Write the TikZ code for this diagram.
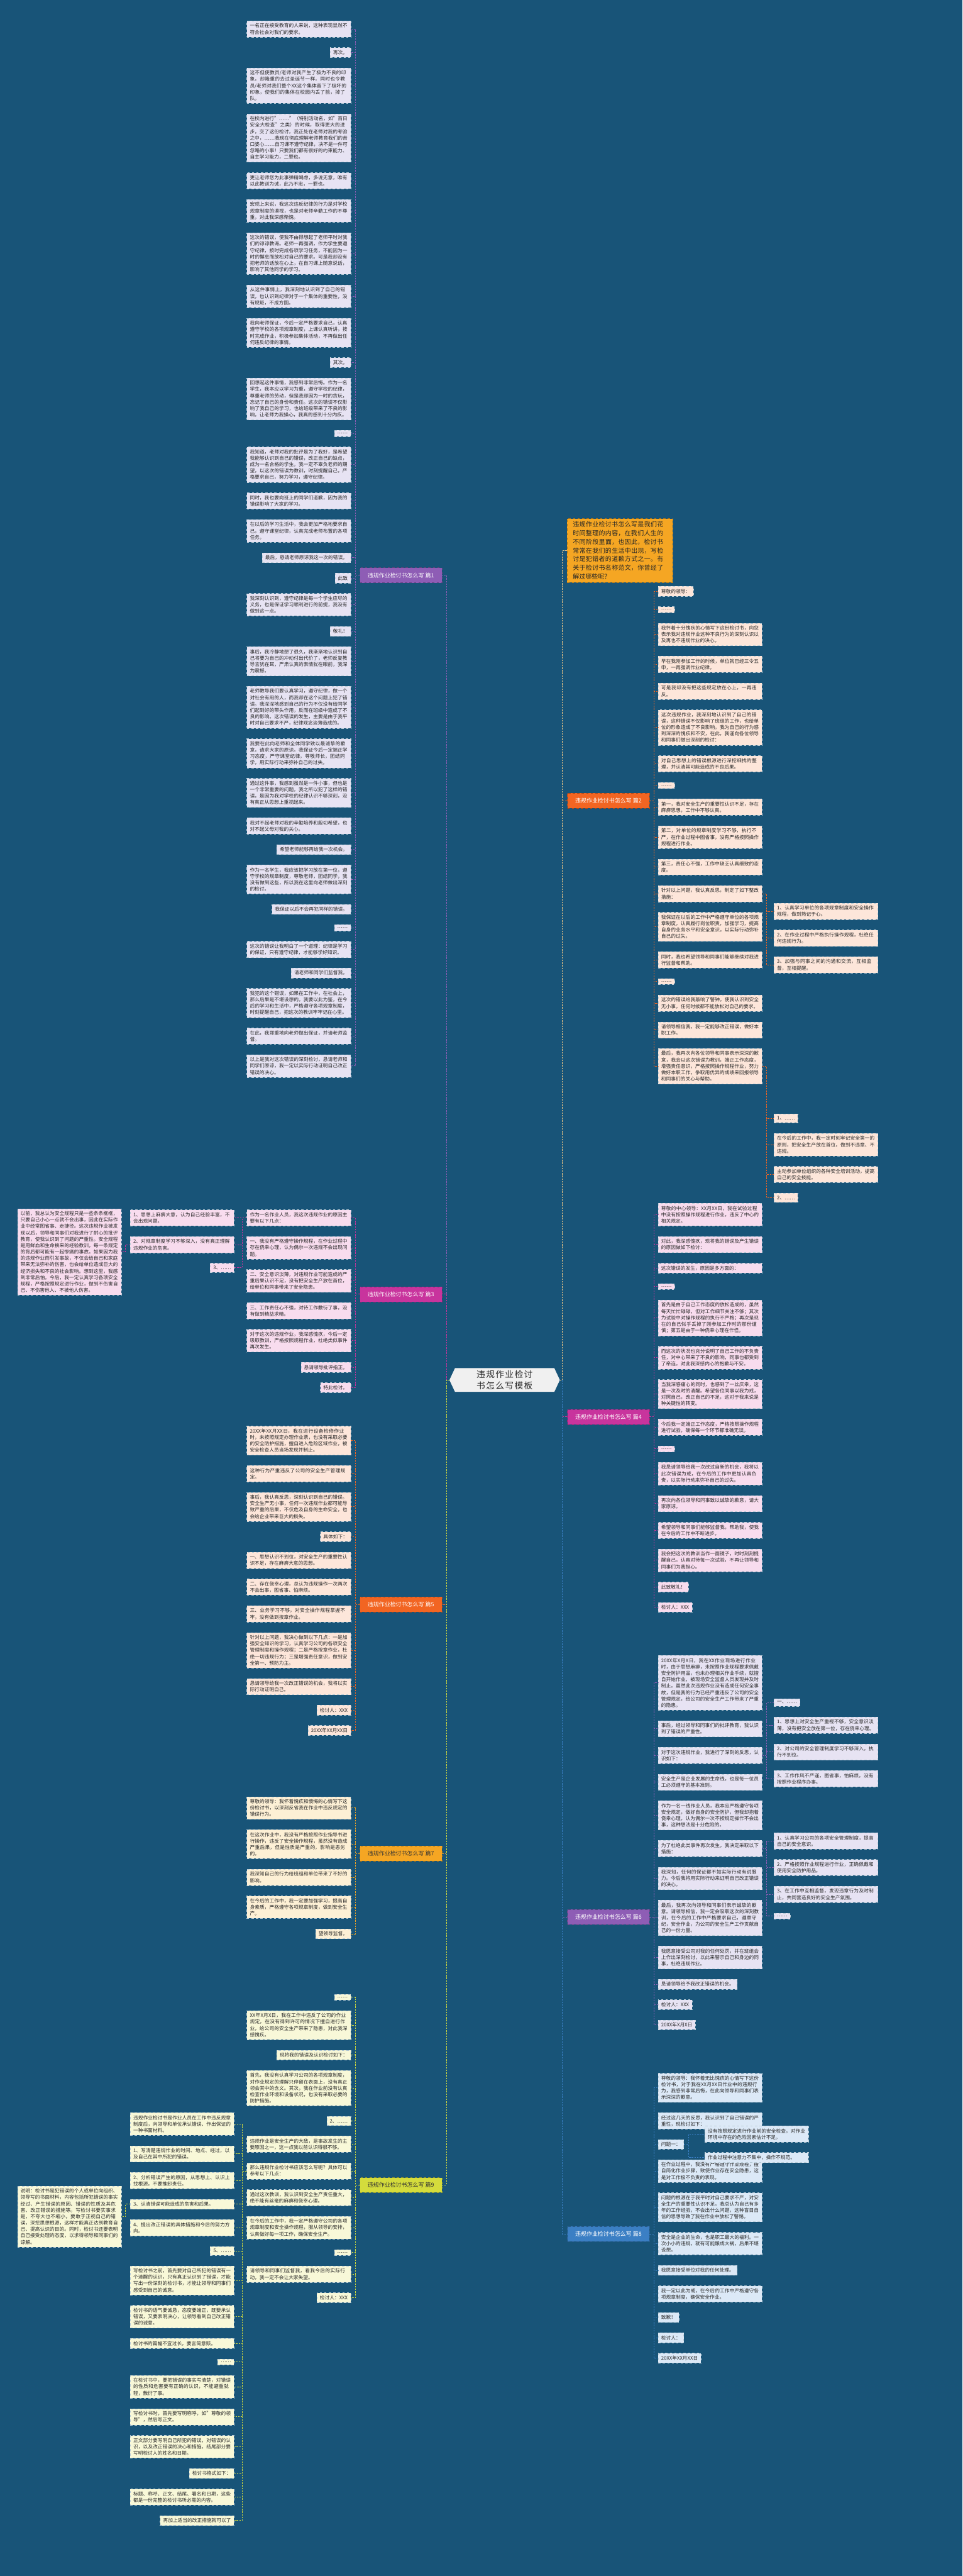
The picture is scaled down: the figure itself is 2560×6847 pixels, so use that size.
\documentclass[tikz,border=0pt]{standalone}
\usepackage{fontspec}
\setmainfont{Noto Sans CJK SC}
\usetikzlibrary{positioning,shapes.symbols}
\XeTeXlinebreaklocale "zh"
\XeTeXlinebreakskip = 0pt plus 1pt
\definecolor{bg}{RGB}{24,84,120}
\definecolor{cpurple}{RGB}{142,93,181}
\definecolor{corange}{RGB}{242,101,34}
\definecolor{cmagenta}{RGB}{200,52,157}
\definecolor{camber}{RGB}{245,166,35}
\definecolor{cblue}{RGB}{59,127,196}
\definecolor{clime}{RGB}{212,220,60}
\definecolor{fpurple}{RGB}{231,227,243}
\definecolor{forange}{RGB}{253,230,218}
\definecolor{fmagenta}{RGB}{248,220,238}
\definecolor{famber}{RGB}{253,240,213}
\definecolor{fblue}{RGB}{220,233,247}
\definecolor{flime}{RGB}{248,248,216}
\tikzset{
  lab/.style={fill=#1, draw=#1!70!black, dashed, minimum width=109pt, minimum height=20pt,
    text=white, font=\fontsize{7.5pt}{9pt}\selectfont, inner sep=0pt},
  leaf/.style={draw=white!70!bg, dashed, line width=0.5pt, text=black!85,
    font=\fontsize{6.45pt}{8.5pt}\selectfont, align=left, inner xsep=4pt, inner ysep=3.5pt},
  lf1/.style={leaf, fill=fpurple, text width=130pt}, sh1/.style={leaf, fill=fpurple},
  lf2/.style={leaf, fill=forange, text width=130pt}, sh2/.style={leaf, fill=forange},
  lf3/.style={leaf, fill=fmagenta, text width=130pt}, sh3/.style={leaf, fill=fmagenta},
  lf7/.style={leaf, fill=famber, text width=130pt}, sh7/.style={leaf, fill=famber},
  lf8/.style={leaf, fill=fblue, text width=130pt}, sh8/.style={leaf, fill=fblue},
  lf9/.style={leaf, fill=flime, text width=130pt}, sh9/.style={leaf, fill=flime},
  dl/.style={below left=13.5pt and 0pt of #1.south east},
  dr/.style={below right=13.5pt and 0pt of #1.south west},
  link/.style={draw=#1, line width=0.75pt, dash pattern=on 2pt off 1.5pt},
}
\begin{document}
\begin{tikzpicture}[x=0.5pt, y=-0.5pt]
  \fill[bg] (0,0) rectangle (2560,6847);
  \useasboundingbox (0,0) rectangle (2560,6847);
  % centre
  \node[signal, signal to=east and west, signal pointer angle=130, fill=white!94!black,
    text=black!85, text width=126pt, align=center, inner sep=3pt,
    font=\fontsize{11.5pt}{15pt}\selectfont] (root) at (1342,3668) {违规作业检讨书怎么写模板};
  % branch labels
  \node[lab=cpurple] (p1) at (1066,1529) {违规作业检讨书怎么写 篇1};
  \node[lab=corange] (p2) at (1618,2128) {违规作业检讨书怎么写 篇2};
  \node[lab=cmagenta] (p3) at (1066,3440) {违规作业检讨书怎么写 篇3};
  \node[lab=cmagenta] (p4) at (1618,3766) {违规作业检讨书怎么写 篇4};
  \node[lab=corange] (p5) at (1066,4265) {违规作业检讨书怎么写 篇5};
  \node[lab=cpurple] (p6) at (1618,5095) {违规作业检讨书怎么写 篇6};
  \node[lab=camber, text=black!80] (p7) at (1066,4927) {违规作业检讨书怎么写 篇7};
  \node[lab=cblue] (p8) at (1618,5938) {违规作业检讨书怎么写 篇8};
  \node[lab=clime, text=black!80] (p9) at (1066,5808) {违规作业检讨书怎么写 篇9};
  % intro
  \node[fill=camber, draw=camber!70!black, dashed, text width=125pt, align=left, text=black!85,
    font=\fontsize{8.35pt}{11.5pt}\selectfont, inner xsep=7.5pt, inner ysep=4pt, anchor=north west]
    (intro) at (1508,1378) {违规作业检讨书怎么写是我们花时间整理的内容，在我们人生的不同阶段里面，也因此，检讨书常常在我们的生活中出现，写检讨是犯错者的道歉方式之一。有关于检讨书名称范文，你曾经了解过哪些呢？};
  % trunk links
  \foreach \p/\c in {p1/cpurple,p3/cmagenta,p5/corange,p7/camber,p9/clime}
    \draw[link=\c] (root.west) -- (1187,3668) |- (\p.east);
  \foreach \p/\c in {p2/corange,p4/cmagenta,p6/cpurple,p8/cblue}
    \draw[link=\c] (root.east) -- (1496,3668) |- (\p.west);
  \draw[link=camber!55!white] (root.east) -- (1496,3668) |- (intro.west);

  % ---- 篇1
  \node[lf1, anchor=north east] (a1) at (933,55) {一名正在接受教育的人来说，这种表现显然不符合社会对我们的要求。};
  \node[sh1, dl=a1] (a2) {再次。};
  \node[lf1, dl=a2] (a3) {这不但使教员/老师对我产生了极为不良的印象，却隆重的去过圣诞节一样，同时也令教员/老师对我们整个XX这个集体留下了极坏的印象，使我们的集体在校园内丢了脸，掉了队。};
  \node[lf1, dl=a3] (a4) {在校内进行"……"（特别活动名，如"百日安全大检查"之类）的时候，取得更大的进步，交了这份检讨，我正处在老师对我的考验之中，……我现在彻底理解老师教育我们的苦口婆心……自习课不遵守纪律，决不是一件可忽略的小事！只要我们都有很好的约束能力、自主学习能力，二罪也。};
  \node[lf1, dl=a4] (a5) {更让老师您为此事弹精竭虑，多说无意，唯有以此教训为诫，此乃不忠，一罪也。};
  \node[lf1, dl=a5] (a6) {宏观上来说，我这次违反纪律的行为是对学校规章制度的漠视，也是对老师辛勤工作的不尊重，对此我深感惭愧。};
  \node[lf1, dl=a6] (a7) {这次的错误，使我不由得想起了老师平时对我们的谆谆教诲。老师一再强调，作为学生要遵守纪律，按时完成各项学习任务，不能因为一时的懈怠而放松对自己的要求。可是我却没有把老师的话放在心上，在自习课上随意说话，影响了其他同学的学习。};
  \node[lf1, dl=a7] (a8) {从这件事情上，我深刻地认识到了自己的错误，也认识到纪律对于一个集体的重要性，没有规矩，不成方圆。};
  \node[lf1, dl=a8] (a9) {我向老师保证，今后一定严格要求自己，认真遵守学校的各项规章制度，上课认真听讲，按时完成作业，积极参加集体活动，不再做出任何违反纪律的事情。};
  \node[sh1, dl=a9] (a10) {其次。};
  \node[lf1, dl=a10] (a11) {回想起这件事情，我感到非常后悔。作为一名学生，我本应以学习为重，遵守学校的纪律，尊重老师的劳动，但是我却因为一时的贪玩，忘记了自己的身份和责任。这次的错误不仅影响了我自己的学习，也给班级带来了不良的影响，让老师为我操心，我真的感到十分内疚。};
  \node[sh1, dl=a11] (a12) {……};
  \node[lf1, dl=a12] (a13) {我知道，老师对我的批评是为了我好，是希望我能够认识到自己的错误，改正自己的缺点，成为一名合格的学生。我一定不辜负老师的期望，以这次的错误为教训，时刻提醒自己，严格要求自己，努力学习，遵守纪律。};
  \node[lf1, dl=a13] (a14) {同时，我也要向班上的同学们道歉，因为我的错误影响了大家的学习。};
  \node[lf1, dl=a14] (a15) {在以后的学习生活中，我会更加严格地要求自己，遵守课堂纪律，认真完成老师布置的各项任务。};
  \node[sh1, dl=a15] (a16) {最后，恳请老师原谅我这一次的错误。};
  \node[sh1, dl=a16] (a17) {此致};
  \node[lf1, dl=a17] (a18) {我深刻认识到，遵守纪律是每一个学生应尽的义务，也是保证学习顺利进行的前提，我没有做到这一点。};
  \node[sh1, dl=a18] (a19) {敬礼！};
  \node[lf1, dl=a19] (a20) {事后，我冷静地想了很久，我渐渐地认识到自己将要为自己的冲动付出代价了，老师反复教导言犹在耳，严肃认真的表情犹在眼前，我深为震撼。};
  \node[lf1, dl=a20] (a21) {老师教导我们要认真学习，遵守纪律，做一个对社会有用的人，而我却在这个问题上犯了错误。我深深地感到自己的行为不仅没有给同学们起到好的带头作用，反而在班级中造成了不良的影响。这次错误的发生，主要是由于我平时对自己要求不严，纪律观念淡薄造成的。};
  \node[lf1, dl=a21] (a22) {我要在此向老师和全体同学致以最诚挚的歉意，请求大家的原谅。我保证今后一定端正学习态度，严守课堂纪律，尊敬师长，团结同学，用实际行动来弥补自己的过失。};
  \node[lf1, dl=a22] (a23) {通过这件事，我感到虽然是一件小事，但也是一个非常重要的问题。我之所以犯了这样的错误，是因为我对学校的纪律认识不够深刻，没有真正从思想上重视起来。};
  \node[lf1, dl=a23] (a24) {我对不起老师对我的辛勤培养和殷切希望，也对不起父母对我的关心。};
  \node[sh1, dl=a24] (a25) {希望老师能够再给我一次机会。};
  \node[lf1, dl=a25] (a26) {作为一名学生，我应该把学习放在第一位，遵守学校的规章制度，尊敬老师，团结同学，我没有做到这些，所以我在这里向老师做出深刻的检讨。};
  \node[sh1, dl=a26] (a27) {我保证以后不会再犯同样的错误。};
  \node[sh1, dl=a27] (a28) {……};
  \node[lf1, dl=a28] (a29) {这次的错误让我明白了一个道理：纪律是学习的保证，只有遵守纪律，才能够学好知识。};
  \node[sh1, dl=a29] (a30) {请老师和同学们监督我。};
  \node[lf1, dl=a30] (a31) {我犯的这个错误，如果在工作中，在社会上，那么后果是不堪设想的。我要以此为鉴，在今后的学习和生活中，严格遵守各项规章制度，时刻提醒自己，把这次的教训牢牢记在心里。};
  \node[lf1, dl=a31] (a32) {在此，我郑重地向老师做出保证，并请老师监督。};
  \node[lf1, dl=a32] (a34) {以上是我对这次错误的深刻检讨，恳请老师和同学们原谅，我一定以实际行动证明自己改正错误的决心。};
  \foreach \n in {a1,a2,a3,a4,a5,a6,a7,a8,a9,a10,a11,a12,a13,a14,a15,a16,a17,a18,a19,a20,a21,a22,a23,a24,a25,a26,a27,a28,a29,a30,a31,a32,a34}
    \draw[link=cpurple] (p1.west) -- ++(-12,0) |- (\n.east);

  % ---- 篇3
  \node[lf3, anchor=north east] (c1) at (933,3215) {作为一名作业人员，我这次违规作业的原因主要有以下几点：};
  \node[lf3, dl=c1] (c2) {一、我没有严格遵守操作规程，在作业过程中存在侥幸心理，认为偶尔一次违规不会出现问题。};
  \node[lf3, dl=c2] (c3) {二、安全意识淡薄，对违规作业可能造成的严重后果认识不足，没有把安全生产放在首位，给单位和同事带来了安全隐患。};
  \node[lf3, dl=c3] (c4) {三、工作责任心不强，对待工作敷衍了事，没有做到精益求精。};
  \node[lf3, dl=c4] (c5) {对于这次的违规作业，我深感愧疚，今后一定吸取教训，严格按照规程作业，杜绝类似事件再次发生。};
  \node[sh3, dl=c5] (c6) {恳请领导批评指正。};
  \node[sh3, dl=c6] (c7) {特此检讨。};
  \foreach \n in {c1,c2,c3,c4,c5,c6,c7}
    \draw[link=cmagenta] (p3.west) -- ++(-12,0) |- (\n.east);
  \node[lf3, anchor=north east] (q1) at (623,3215) {1、思想上麻痹大意，认为自己经验丰富，不会出现问题。};
  \node[lf3, dl=q1] (q2) {2、对规章制度学习不够深入，没有真正理解违规作业的危害。};
  \node[sh3, dl=q2] (q3) {3、……};
  \foreach \n in {q1,q2,q3}
    \draw[link=cmagenta] (c1.west) -- ++(-12,0) |- (\n.east);
  \node[lf3, anchor=north east] (qq) at (323,3212) {以前，我总认为安全规程只是一些条条框框，只要自己小心一点就不会出事，因此在实际作业中经常图省事、走捷径。这次违规作业被发现以后，领导和同事们对我进行了耐心的批评教育，使我认识到了问题的严重性。安全规程是用鲜血和生命换来的经验教训，每一条规定的背后都可能有一起惨痛的事故。如果因为我的违规作业而引发事故，不仅会给自己和家庭带来无法弥补的伤害，也会给单位造成巨大的经济损失和不良的社会影响。想到这里，我感到非常后怕。今后，我一定认真学习各项安全规程，严格按照规定进行作业，做到不伤害自己、不伤害他人、不被他人伤害。};
  \draw[link=cmagenta] (q2.west) -- ++(-12,0) |- (qq.east);

  % ---- 篇5
  \node[lf2, anchor=north east] (e1) at (933,3790) {20XX年XX月XX日，我在进行设备检修作业时，未按照规定办理作业票，也没有采取必要的安全防护措施，擅自进入危险区域作业，被安全检查人员当场发现并制止。};
  \node[lf2, dl=e1] (e2) {这种行为严重违反了公司的安全生产管理规定。};
  \node[lf2, dl=e2] (e3) {事后，我认真反思，深刻认识到自己的错误。安全生产无小事，任何一次违规作业都可能导致严重的后果，不仅危及自身的生命安全，也会给企业带来巨大的损失。};
  \node[sh2, dl=e3] (e4) {具体如下：};
  \node[lf2, dl=e4] (e5) {一、思想认识不到位，对安全生产的重要性认识不足，存在麻痹大意的思想。};
  \node[lf2, dl=e5] (e6) {二、存在侥幸心理，总认为违规操作一次两次不会出事，图省事、怕麻烦。};
  \node[lf2, dl=e6] (e7) {三、业务学习不够，对安全操作规程掌握不牢，没有做到按章作业。};
  \node[lf2, dl=e7] (e8) {针对以上问题，我决心做到以下几点：一是加强安全知识的学习，认真学习公司的各项安全管理制度和操作规程；二是严格按章作业，杜绝一切违规行为；三是增强责任意识，做到安全第一、预防为主。};
  \node[lf2, dl=e8] (e9) {恳请领导给我一次改正错误的机会，我将以实际行动证明自己。};
  \node[sh2, dl=e9] (e10) {检讨人：XXX};
  \node[sh2, dl=e10] (e11) {20XX年XX月XX日};
  \foreach \n in {e1,e2,e3,e4,e5,e6,e7,e8,e9,e10,e11}
    \draw[link=corange] (p5.west) -- ++(-12,0) |- (\n.east);

  % ---- 篇7
  \node[lf7, anchor=north east] (f1) at (933,4775) {尊敬的领导：我怀着愧疚和懊悔的心情写下这份检讨书，以深刻反省我在作业中违反规定的错误行为。};
  \node[lf7, dl=f1] (f2) {在这次作业中，我没有严格按照作业指导书进行操作，违反了安全操作规程，虽然没有造成严重后果，但是性质是严重的，影响是恶劣的。};
  \node[lf7, dl=f2] (f3) {我深知自己的行为给班组和单位带来了不好的影响。};
  \node[lf7, dl=f3] (f4) {在今后的工作中，我一定要加强学习，提高自身素质，严格遵守各项规章制度，做到安全生产。};
  \node[sh7, dl=f4] (f5) {望领导监督。};
  \foreach \n in {f1,f2,f3,f4,f5}
    \draw[link=camber] (p7.west) -- ++(-12,0) |- (\n.east);

  % ---- 篇9
  \node[sh9, anchor=north east] (i1) at (933,5300) {……};
  \node[lf9, dl=i1] (i2) {XX年X月X日，我在工作中违反了公司的作业规定，在没有得到许可的情况下擅自进行作业，给公司的安全生产带来了隐患，对此我深感愧疚。};
  \node[sh9, dl=i2] (i3) {现将我的错误及认识检讨如下：};
  \node[lf9, dl=i3] (i4) {首先，我没有认真学习公司的各项规章制度，对作业规定的理解只停留在表面上，没有真正领会其中的含义。其次，我在作业前没有认真检查作业环境和设备状况，也没有采取必要的防护措施。};
  \node[sh9, dl=i4] (i5) {2、……};
  \node[lf9, dl=i5] (i6) {违规作业是安全生产的大敌，是事故发生的主要原因之一，这一点我以前认识得很不够。};
  \node[lf9, dl=i6] (i7) {那么违规作业检讨书应该怎么写呢？具体可以参考以下几点：};
  \node[lf9, dl=i7] (i8) {通过这次教训，我认识到安全生产责任重大，绝不能有丝毫的麻痹和侥幸心理。};
  \node[lf9, dl=i8] (i9) {在今后的工作中，我一定严格遵守公司的各项规章制度和安全操作规程，服从领导的安排，认真做好每一项工作，确保安全生产。};
  \node[sh9, dl=i9] (i10) {……};
  \node[lf9, dl=i10] (i11) {请领导和同事们监督我，看我今后的实际行动，我一定不会让大家失望。};
  \node[sh9, dl=i11] (i12) {检讨人：XXX};
  \foreach \n in {i1,i2,i3,i4,i5,i6,i7,i8,i9,i10,i11,i12}
    \draw[link=clime] (p9.west) -- ++(-12,0) |- (\n.east);
  \node[lf9, anchor=north east] (j0) at (623,5615) {违规作业检讨书是作业人员在工作中违反规章制度后，向领导和单位承认错误、作出保证的一种书面材料。};
  \node[lf9, dl=j0] (j1) {1、写清楚违规作业的时间、地点、经过，以及自己在其中所犯的错误。};
  \node[lf9, dl=j1] (j2) {2、分析错误产生的原因，从思想上、认识上找根源，不要推卸责任。};
  \node[lf9, dl=j2] (j3) {3、认清错误可能造成的危害和后果。};
  \node[lf9, dl=j3] (j4) {4、提出改正错误的具体措施和今后的努力方向。};
  \node[sh9, dl=j4] (j5) {5、……};
  \node[lf9, dl=j5] (j5b) {写检讨书之前，首先要对自己所犯的错误有一个清醒的认识，只有真正认识到了错误，才能写出一份深刻的检讨书，才能让领导和同事们感受到自己的诚意。};
  \node[lf9, dl=j5b] (j6) {检讨书的语气要诚恳，态度要端正，既要承认错误，又要表明决心，让领导看到自己改正错误的诚意。};
  \node[lf9, dl=j6] (j7) {检讨书的篇幅不宜过长，要言简意赅。};
  \node[sh9, dl=j7] (j8) {……};
  \node[lf9, dl=j8] (j8b) {在检讨书中，要把错误的事实写清楚，对错误的性质和危害要有正确的认识，不能避重就轻，敷衍了事。};
  \node[lf9, dl=j8b] (j9) {写检讨书时，首先要写明称呼，如"尊敬的领导"，然后写正文。};
  \node[lf9, dl=j9] (j10) {正文部分要写明自己所犯的错误，对错误的认识，以及改正错误的决心和措施。结尾部分要写明检讨人的姓名和日期。};
  \node[sh9, dl=j10] (j11) {检讨书格式如下：};
  \node[lf9, dl=j11] (j12) {标题、称呼、正文、结尾、署名和日期，这些都是一份完整的检讨书所必需的内容。};
  \node[sh9, dl=j12] (j13) {再加上适当的改正措施就可以了};
  \foreach \n in {j0,j1,j2,j3,j4,j5,j5b,j6,j7,j8,j8b,j9,j10,j11,j12,j13}
    \draw[link=clime] (i7.west) -- ++(-12,0) |- (\n.east);
  \node[lf9, anchor=north east] (k1) at (323,5810) {说明：检讨书是犯错误的个人或单位向组织、领导写的书面材料，内容包括所犯错误的事实经过、产生错误的原因、错误的性质及其危害、改正错误的措施等。写检讨书要实事求是，不夸大也不缩小，要敢于正视自己的错误，深挖思想根源，这样才能真正达到教育自己、提高认识的目的。同时，检讨书还要表明自己接受处理的态度，以求得领导和同事们的谅解。};
  \draw[link=clime] (j3.west) -- ++(-12,0) |- (k1.east);

  % ---- 篇2
  \node[sh2, anchor=north west] (b1) at (1750,1558) {尊敬的领导：};
  \node[sh2, dr=b1] (b2) {……};
  \node[lf2, dr=b2] (b3) {我怀着十分愧疚的心情写下这份检讨书，向您表示我对违规作业这种不良行为的深刻认识以及再也不违规作业的决心。};
  \node[lf2, dr=b3] (b4) {早在我刚参加工作的时候，单位就已经三令五申，一再强调作业纪律。};
  \node[lf2, dr=b4] (b5) {可是我却没有把这些规定放在心上，一再违反。};
  \node[lf2, dr=b5] (b6) {这次违规作业，我深刻地认识到了自己的错误，这种错误不仅影响了班组的工作，也给单位的形象造成了不良影响。我为自己的行为感到深深的愧疚和不安，在此，我谨向各位领导和同事们做出深刻的检讨：};
  \node[lf2, dr=b6] (b7) {对自己思想上的错误根源进行深挖细找的整理，并认清其可能造成的不良后果。};
  \node[sh2, dr=b7] (b8) {……};
  \node[lf2, dr=b8] (b9) {第一，我对安全生产的重要性认识不足，存在麻痹思想，工作中不够认真。};
  \node[lf2, dr=b9] (b10) {第二，对单位的规章制度学习不够，执行不严，在作业过程中图省事，没有严格按照操作规程进行作业。};
  \node[lf2, dr=b10] (b11) {第三，责任心不强，工作中缺乏认真细致的态度。};
  \node[lf2, dr=b11] (b12) {针对以上问题，我认真反思，制定了如下整改措施：};
  \node[lf2, dr=b12] (b13) {我保证在以后的工作中严格遵守单位的各项规章制度，认真履行岗位职责，加强学习，提高自身的业务水平和安全意识，以实际行动弥补自己的过失。};
  \node[lf2, dr=b13] (b14) {同时，我也希望领导和同事们能够继续对我进行监督和帮助。};
  \node[sh2, dr=b14] (b15) {……};
  \node[lf2, dr=b15] (b16) {这次的错误给我敲响了警钟，使我认识到安全无小事，任何时候都不能放松对自己的要求。};
  \node[lf2, dr=b16] (b17) {请领导相信我，我一定能够改正错误，做好本职工作。};
  \node[lf2, dr=b17] (b18) {最后，我再次向各位领导和同事表示深深的歉意，我会以这次错误为教训，端正工作态度，增强责任意识，严格按照操作规程作业，努力做好本职工作，争取用优异的成绩来回报领导和同事们的关心与帮助。};
  \foreach \n in {b1,b2,b3,b4,b5,b6,b7,b8,b9,b10,b11,b12,b13,b14,b15,b16,b17,b18}
    \draw[link=corange] (p2.east) -- ++(11,0) |- (\n.west);
  \node[lf2, anchor=north west] (g21) at (2058,2400) {1、认真学习单位的各项规章制度和安全操作规程，做到熟记于心。};
  \node[lf2, dr=g21] (g22) {2、在作业过程中严格执行操作规程，杜绝任何违规行为。};
  \node[lf2, dr=g22] (g23) {3、加强与同事之间的沟通和交流，互相监督，互相提醒。};
  \foreach \n in {g21,g22,g23}
    \draw[link=corange] (b12.east) -- ++(12,0) |- (\n.west);
  \node[sh2, anchor=north west] (g24) at (2058,2960) {1、……};
  \node[lf2, dr=g24] (g25) {在今后的工作中，我一定时刻牢记安全第一的原则，把安全生产放在首位，做到不违章、不违规。};
  \node[lf2, dr=g25] (g26) {主动参加单位组织的各种安全培训活动，提高自己的安全技能。};
  \node[sh2, dr=g26] (g27) {2、……};
  \foreach \n in {g24,g25,g26,g27}
    \draw[link=corange] (b18.east) -- ++(12,0) |- (\n.west);

  % ---- 篇4
  \node[lf3, anchor=north west] (d1) at (1750,3198) {尊敬的中心领导：XX月XX日，我在试验过程中没有按照操作规程进行作业，违反了中心的相关规定。};
  \node[lf3, dr=d1] (d2) {对此，我深感愧疚，现将我的错误及产生错误的原因做如下检讨：};
  \node[lf3, dr=d2] (d3) {这次错误的发生，原因是多方面的：};
  \node[sh3, dr=d3] (d4) {……};
  \node[lf3, dr=d4] (d5) {首先是由于自己工作态度的放松造成的，虽然每天忙忙碌碌，但对工作细节关注不够；其次为试验中对操作规程的执行不严格；再次是现在的自己似乎丢掉了刚参加工作时的那份谨慎；第五是由于一种侥幸心理在作怪。};
  \node[lf3, dr=d5] (d6) {而这次的状况也充分说明了自己工作的不负责任，对中心带来了不良的影响，同事也都受到了牵连，对此我深感内心的抱歉与不安。};
  \node[lf3, dr=d6] (d7) {当我深感痛心的同时，也感到了一丝庆幸，这是一次及时的清醒。希望各位同事以我为戒，对照自己，改正自己的不足，这对于我来说是种关键性的转变。};
  \node[lf3, dr=d7] (d8) {今后我一定端正工作态度，严格按照操作规程进行试验，确保每一个环节都准确无误。};
  \node[sh3, dr=d8] (d9) {……};
  \node[lf3, dr=d9] (d10) {我恳请领导给我一次改过自新的机会，我将以此次错误为戒，在今后的工作中更加认真负责，以实际行动来弥补自己的过失。};
  \node[lf3, dr=d10] (d11) {再次向各位领导和同事致以诚挚的歉意，请大家原谅。};
  \node[lf3, dr=d11] (d12) {希望领导和同事们能够监督我，帮助我，使我在今后的工作中不断进步。};
  \node[lf3, dr=d12] (d14) {我会把这次的教训当作一面镜子，时时刻刻提醒自己，认真对待每一次试验，不再让领导和同事们为我担心。};
  \node[sh3, dr=d14] (d13) {此致敬礼！};
  \node[sh3, dr=d13] (d15) {检讨人：XXX};
  \foreach \n in {d1,d2,d3,d4,d5,d6,d7,d8,d9,d10,d11,d12,d14,d13,d15}
    \draw[link=cmagenta] (p4.east) -- ++(11,0) |- (\n.west);

  % ---- 篇6
  \node[lf1, anchor=north west] (h1) at (1750,4400) {20XX年X月X日，我在XX作业现场进行作业时，由于思想麻痹，未按照作业规程要求佩戴安全防护用品，也未办理相关作业手续，就擅自开始作业，被现场安全监督人员发现并及时制止。虽然此次违规作业没有造成任何安全事故，但是我的行为已经严重违反了公司的安全管理规定，给公司的安全生产工作带来了严重的隐患。};
  \node[lf1, dr=h1] (h2) {事后，经过领导和同事们的批评教育，我认识到了错误的严重性。};
  \node[lf1, dr=h2] (h3) {对于这次违规作业，我进行了深刻的反思，认识如下：};
  \node[lf1, dr=h3] (h4) {安全生产是企业发展的生命线，也是每一位员工必须遵守的基本准则。};
  \node[lf1, dr=h4] (h5) {作为一名一线作业人员，我本应严格遵守各项安全规定，做好自身的安全防护，但我却抱着侥幸心理，认为偶尔一次不按规定操作不会出事，这种想法是十分危险的。};
  \node[lf1, dr=h5] (h6) {为了杜绝此类事件再次发生，我决定采取以下措施：};
  \node[lf1, dr=h6] (h7) {我深知，任何的保证都不如实际行动有说服力。今后我将用实际行动来证明自己改正错误的决心。};
  \node[lf1, dr=h7] (h8) {最后，我再次向领导和同事们表示诚挚的歉意。请领导相信，我一定会吸取这次的深刻教训，在今后的工作中严格要求自己，遵章守纪，安全作业，为公司的安全生产工作贡献自己的一份力量。};
  \node[lf1, dr=h8] (h12) {我愿意接受公司对我的任何处罚，并在班组会上作出深刻检讨，以此来警示自己和身边的同事，杜绝违规作业。};
  \node[sh1, dr=h12] (h9) {恳请领导给予我改正错误的机会。};
  \node[sh1, dr=h9] (h10) {检讨人：XXX};
  \node[sh1, dr=h10] (h11) {20XX年X月X日};
  \foreach \n in {h1,h2,h3,h4,h5,h6,h7,h8,h12,h9,h10,h11}
    \draw[link=cpurple] (p6.east) -- ++(11,0) |- (\n.west);
  \node[sh1, anchor=north west] (gh1) at (2058,4515) {一、……};
  \node[lf1, dr=gh1] (gh2) {1、思想上对安全生产重视不够，安全意识淡薄，没有把安全放在第一位，存在侥幸心理。};
  \node[lf1, dr=gh2] (gh3) {2、对公司的安全管理制度学习不够深入，执行不到位。};
  \node[lf1, dr=gh3] (gh4) {3、工作作风不严谨，图省事，怕麻烦，没有按照作业程序办事。};
  \foreach \n in {gh1,gh2,gh3,gh4}
    \draw[link=cpurple] (h3.east) -- ++(12,0) |- (\n.west);
  \node[lf1, anchor=north west] (gh5) at (2058,4871) {1、认真学习公司的各项安全管理制度，提高自己的安全意识。};
  \node[lf1, dr=gh5] (gh6) {2、严格按照作业规程进行作业，正确佩戴和使用安全防护用品。};
  \node[lf1, dr=gh6] (gh7) {3、在工作中互相监督，发现违章行为及时制止，共同营造良好的安全生产氛围。};
  \node[sh1, dr=gh7] (gh8) {……};
  \foreach \n in {gh5,gh6,gh7,gh8}
    \draw[link=cpurple] (h6.east) -- ++(12,0) |- (\n.west);

  % ---- 篇8
  \node[lf8, anchor=north west] (m1) at (1750,5510) {尊敬的领导：我怀着无比愧疚的心情写下这份检讨书，对于我在XX月XX日作业中的违规行为，我感到非常后悔，在此向领导和同事们表示深深的歉意。};
  \node[lf8, dr=m1] (m2) {经过这几天的反思，我认识到了自己错误的严重性，现检讨如下：};
  \node[sh8, dr=m2] (m3) {问题一：};
  \node[lf8, dr=m3] (m4) {在作业过程中，我没有严格遵守作业规程，擅自简化作业步骤，致使作业存在安全隐患，这是对工作极不负责的表现。};
  \node[lf8, dr=m4] (m5) {问题的根源在于我平时对自己要求不严，对安全生产的重要性认识不足。我总认为自己有多年的工作经验，不会出什么问题，这种盲目自信的思想导致了我在作业中放松了警惕。};
  \node[lf8, dr=m5] (m5b) {安全是企业的生命，也是职工最大的福利。一次小小的违规，就有可能酿成大祸，后果不堪设想。};
  \node[sh8, dr=m5b] (m6) {我愿意接受单位对我的任何处理。};
  \node[lf8, dr=m6] (m7) {我一定以此为戒，在今后的工作中严格遵守各项规章制度，确保安全作业。};
  \node[sh8, dr=m7] (m8) {致歉！};
  \node[sh8, dr=m8] (m9) {检讨人：};
  \node[sh8, dr=m9] (m10) {20XX年XX月XX日};
  \foreach \n in {m1,m2,m3,m4,m5,m5b,m6,m7,m8,m9,m10}
    \draw[link=cblue] (p8.east) -- ++(11,0) |- (\n.west);
  \node[lf8, anchor=north west] (gm1) at (1874,5650) {没有按照规定进行作业前的安全检查，对作业环境中存在的危险因素估计不足。};
  \node[lf8, dr=gm1] (gm2) {作业过程中注意力不集中，操作不规范。};
  \foreach \n in {gm1,gm2}
    \draw[link=cblue] (m3.east) -- ++(12,0) |- (\n.west);
\end{tikzpicture}
\end{document}
